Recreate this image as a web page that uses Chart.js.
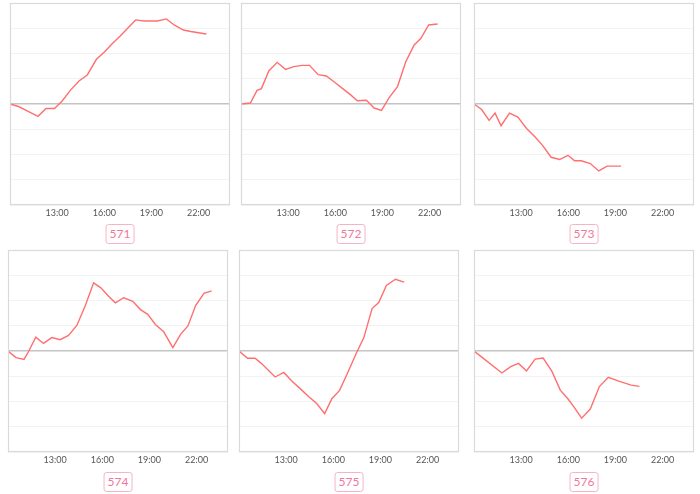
<!DOCTYPE html>
<html>
<head>
<meta charset="utf-8">
<script src="https://cdn.jsdelivr.net/npm/chart.js@4.4.1/dist/chart.umd.min.js"></script>
<style>
  html, body { margin: 0; padding: 0; background: #ffffff; }
  body { width: 700px; height: 494px; position: relative; overflow: hidden; font-family: Lato, "Noto Sans", sans-serif; }
  canvas { position: absolute; }
  .tag { position: absolute; height: 18px; line-height: 18px; padding: 0 3px; border: 1px solid #f7b3c6; border-radius: 3px;
         color: #f0789c; font-size: 12px; font-family: Lato, "Noto Sans", sans-serif; transform: translateX(-50%); }
</style>
</head>
<body>
<script>
// ---- data (x in hours of the day, y in chart units) ----
const panelNames = ["571", "572", "573", "574", "575", "576"];
const tickHours = [13, 16, 19, 22];

const times571  = [10.0, 10.54, 11.28, 11.78, 12.29, 12.83, 13.32, 13.85, 14.39, 14.92, 15.5, 15.99, 16.5, 17.0, 17.5, 18.0, 18.53, 19.0, 19.38, 19.95, 20.45, 21.03, 21.5, 22.5];
const values571 = [0, -0.1, -0.33, -0.49, -0.18, -0.18, 0.12, 0.55, 0.91, 1.15, 1.77, 2.05, 2.39, 2.68, 3.01, 3.33, 3.29, 3.29, 3.29, 3.37, 3.13, 2.93, 2.87, 2.77];

const times572  = [10.0, 10.6, 11.02, 11.3, 11.77, 12.3, 12.83, 13.36, 13.89, 14.36, 14.91, 15.43, 15.98, 16.45, 16.98, 17.4, 17.98, 18.47, 18.94, 19.43, 19.96, 20.49, 21.02, 21.45, 21.94, 22.51];
const values572 = [0, 0.04, 0.54, 0.61, 1.31, 1.65, 1.37, 1.48, 1.53, 1.53, 1.16, 1.11, 0.85, 0.62, 0.36, 0.13, 0.15, -0.16, -0.25, 0.25, 0.69, 1.68, 2.34, 2.6, 3.13, 3.17];

const times573  = [10.0, 10.49, 10.96, 11.34, 11.72, 12.26, 12.79, 13.36, 13.89, 14.36, 14.91, 15.45, 15.98, 16.4, 16.83, 17.4, 17.94, 18.47, 19.36];
const values573 = [0, -0.22, -0.65, -0.36, -0.86, -0.36, -0.52, -0.98, -1.31, -1.64, -2.11, -2.2, -2.03, -2.25, -2.25, -2.36, -2.65, -2.46, -2.46];

const times574  = [10.0, 10.51, 11.02, 11.3, 11.77, 12.26, 12.79, 13.32, 13.85, 14.38, 14.91, 15.45, 15.91, 16.4, 16.83, 17.36, 17.94, 18.43, 18.89, 19.38, 19.91, 20.49, 20.98, 21.45, 21.94, 22.47, 22.96];
const values574 = [0, -0.26, -0.33, -0.03, 0.55, 0.3, 0.53, 0.45, 0.62, 1.01, 1.78, 2.7, 2.5, 2.17, 1.91, 2.11, 1.97, 1.64, 1.45, 1.05, 0.76, 0.13, 0.66, 0.99, 1.8, 2.28, 2.38];

const times575  = [10.0, 10.55, 11.02, 11.4, 12.3, 12.85, 13.36, 13.96, 14.43, 14.96, 15.45, 15.91, 16.4, 16.94, 17.47, 17.94, 18.47, 18.89, 19.38, 19.96, 20.51];
const values575 = [0, -0.29, -0.29, -0.48, -1.03, -0.85, -1.19, -1.53, -1.8, -2.09, -2.48, -1.89, -1.56, -0.83, -0.08, 0.52, 1.68, 1.92, 2.6, 2.84, 2.73];

const times576  = [10.0, 10.74, 11.77, 12.34, 12.83, 13.34, 13.89, 14.4, 14.96, 15.49, 15.96, 16.38, 16.85, 17.4, 17.98, 18.55, 19.26, 20.0, 20.53];
const values576 = [0, -0.36, -0.87, -0.62, -0.49, -0.79, -0.32, -0.28, -0.81, -1.55, -1.88, -2.23, -2.66, -2.3, -1.41, -1.04, -1.2, -1.35, -1.4];

const seriesTimes  = [times571, times572, times573, times574, times575, times576];
const seriesValues = [values571, values572, values573, values574, values575, values576];

// ---- layout ----
const plotLefts = [10, 241, 474, 8, 239, 474];
const plotTops  = [3, 3, 3, 250, 250, 250];
const plotW = 220, plotH = 202;
const PAD = 4, AXIS_H = 16;

const framePlugin = {
  id: 'frame',
  afterDraw(chart) {
    const a = chart.chartArea, c = chart.ctx;
    c.save();
    c.strokeStyle = '#dadada';
    c.lineWidth = 1.2;
    c.strokeRect(a.left + 0.5, a.top + 0.5, a.right - a.left - 1, a.bottom - a.top - 1);
    c.restore();
  }
};

for (let i = 0; i < 6; i++) {
  const cv = document.createElement('canvas');
  const W = plotW + 2 * PAD, H = PAD + plotH + AXIS_H;
  cv.width = W; cv.height = H;
  cv.style.left = (plotLefts[i] - PAD) + 'px';
  cv.style.top = (plotTops[i] - PAD) + 'px';
  cv.style.width = W + 'px'; cv.style.height = H + 'px';
  document.body.appendChild(cv);

  const pts = seriesTimes[i].map((t, k) => ({ x: t, y: seriesValues[i][k] }));

  new Chart(cv, {
    type: 'line',
    data: { datasets: [{ data: pts, borderColor: '#ff6f6f', borderWidth: 1.4, pointRadius: 0, tension: 0, fill: false }] },
    options: {
      responsive: false, animation: false, devicePixelRatio: 1,
      layout: { padding: { left: PAD, right: PAD, top: PAD, bottom: 0 } },
      plugins: { legend: { display: false }, tooltip: { enabled: false } },
      scales: {
        x: {
          type: 'linear', min: 10, max: 24,
          afterBuildTicks: s => { s.ticks = tickHours.map(v => ({ value: v })); },
          afterFit: s => { s.height = AXIS_H; },
          grid: { display: false, drawTicks: false },
          border: { display: false },
          ticks: { padding: 3, color: '#555', font: { size: 9, family: 'Lato, "Noto Sans", sans-serif' }, maxRotation: 0, autoSkip: false,
                   callback: v => v + ':00' }
        },
        y: {
          min: -4, max: 4,
          ticks: { display: false, stepSize: 1 },
          afterFit: s => { s.width = 0; },
          border: { display: false },
          grid: {
            drawTicks: false,
            color: c => c.tick.value === 0 ? '#c4c4c4' : '#f2f2f2',
            lineWidth: c => c.tick.value === 0 ? 1.6 : 1
          }
        }
      }
    },
    plugins: [framePlugin]
  });

  const tag = document.createElement('div');
  tag.className = 'tag';
  tag.textContent = panelNames[i];
  tag.style.left = (plotLefts[i] + plotW / 2) + 'px';
  tag.style.top = (i < 3 ? 224 : 472) + 'px';
  document.body.appendChild(tag);
}
</script>
</body>
</html>
